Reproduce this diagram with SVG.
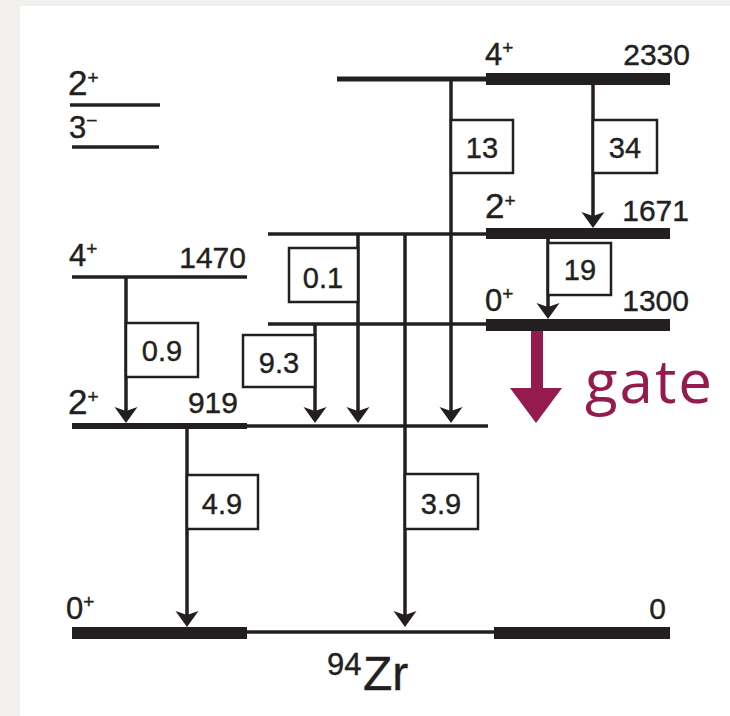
<svg xmlns="http://www.w3.org/2000/svg" width="730" height="716" viewBox="0 0 730 716">
<defs>
<style>
.bg{fill:#f1f0ec}
.panel{fill:#ffffff}
.lvl{stroke:#231f20;stroke-width:3.5;fill:none}
.bar{fill:#231f20}
.tr{stroke:#231f20;stroke-width:3.5;fill:none;marker-end:url(#ah)}
.box{fill:#ffffff;stroke:#231f20;stroke-width:2.5}
.t{font-family:"Liberation Sans",Arial,sans-serif;fill:#231f20;stroke:#231f20;stroke-width:0.4}
.spin{font-size:31px}
.spin2{font-size:35px}
.sup{font-size:19px}
.en{font-size:30px}
.bl{font-size:29px;text-anchor:middle}
.gate{fill:#951a4e}
.gtxt{fill:#951a4e;font-family:"Open Sans","Noto Sans",sans-serif;font-size:60px;letter-spacing:2px}
</style>
<marker id="ah" viewBox="-18 -12 19 24" markerWidth="19" markerHeight="24" refX="-4" refY="0" orient="auto" markerUnits="userSpaceOnUse">
<path d="M0,0 L-16,-11.5 L-12,0 L-16,11.5 Z" fill="#231f20"/>
</marker>
</defs>
<rect class="bg" x="0" y="0" width="730" height="716"/>
<rect class="panel" x="20" y="6" width="710" height="710"/>

<g id="level-2plus-top">
<line class="lvl" x1="70" y1="105" x2="160" y2="105"/>
<text class="t spin2" x="68" y="95">2<tspan class="sup" dy="-11">+</tspan></text>
</g>
<g id="level-3minus">
<line class="lvl" x1="72" y1="147" x2="159" y2="147"/>
<text class="t spin" x="69" y="138">3<tspan class="sup" dy="-11">−</tspan></text>
</g>
<g id="level-1470">
<line class="lvl" x1="72" y1="277" x2="247" y2="277"/>
<text class="t spin" x="69" y="266">4<tspan class="sup" dy="-11">+</tspan></text>
<text class="t en" x="246" y="268" text-anchor="end">1470</text>
</g>
<g id="level-919">
<rect class="bar" x="72" y="423" width="175" height="6"/>
<line class="lvl" x1="246" y1="426" x2="488" y2="426"/>
<text class="t spin2" x="68" y="414">2<tspan class="sup" dy="-11">+</tspan></text>
<text class="t en" x="238" y="413" text-anchor="end">919</text>
</g>
<g id="level-0">
<rect class="bar" x="72" y="627" width="175" height="12"/>
<line class="lvl" x1="246" y1="632" x2="495" y2="632"/>
<rect class="bar" x="494" y="627" width="176" height="12"/>
<text class="t spin" x="66" y="619">0<tspan class="sup" dy="-11">+</tspan></text>
<text class="t en" x="666" y="619" text-anchor="end">0</text>
</g>
<g id="level-2330">
<line class="lvl" x1="337" y1="79" x2="487" y2="79" style="stroke-width:5"/>
<rect class="bar" x="486" y="73" width="184" height="12"/>
<text class="t spin" x="485" y="65">4<tspan class="sup" dy="-11">+</tspan></text>
<text class="t en" x="690" y="65" text-anchor="end">2330</text>
</g>
<g id="level-1671">
<line class="lvl" x1="268" y1="234" x2="487" y2="234"/>
<rect class="bar" x="486" y="228" width="184" height="11"/>
<text class="t spin2" x="485" y="218">2<tspan class="sup" dy="-11">+</tspan></text>
<text class="t en" x="689" y="221" text-anchor="end">1671</text>
</g>
<g id="level-1300">
<line class="lvl" x1="268" y1="324" x2="487" y2="324"/>
<rect class="bar" x="486" y="319" width="184" height="12"/>
<text class="t spin" x="485" y="311">0<tspan class="sup" dy="-11">+</tspan></text>
<text class="t en" x="689" y="311" text-anchor="end">1300</text>
</g>

<g id="connectors">
<line class="tr" x1="451" y1="79" x2="451" y2="419"/>
<line class="tr" x1="593" y1="85" x2="593" y2="224"/>
<line class="tr" x1="548" y1="239" x2="548" y2="315"/>
<line class="tr" x1="358" y1="234" x2="358" y2="419"/>
<line class="tr" x1="405" y1="234" x2="405" y2="623"/>
<line class="tr" x1="315" y1="324" x2="315" y2="419"/>
<line class="tr" x1="126" y1="277" x2="126" y2="419"/>
<line class="tr" x1="187" y1="429" x2="187" y2="623"/>
</g>

<g id="label-13"><rect class="box" x="451" y="120" width="62" height="53"/><text class="t bl" x="482" y="158">13</text></g>
<g id="label-34"><rect class="box" x="593" y="120" width="64" height="53"/><text class="t bl" x="625" y="158">34</text></g>
<g id="label-19"><rect class="box" x="548" y="243" width="63" height="52"/><text class="t bl" x="580" y="280">19</text></g>
<g id="label-0.1"><rect class="box" x="289" y="248" width="69" height="54"/><text class="t bl" x="323" y="288">0.1</text></g>
<g id="label-9.3"><rect class="box" x="243" y="335" width="72" height="52"/><text class="t bl" x="279" y="373">9.3</text></g>
<g id="label-0.9"><rect class="box" x="126" y="323" width="72" height="54"/><text class="t bl" x="162" y="361">0.9</text></g>
<g id="label-4.9"><rect class="box" x="187" y="475" width="71" height="54"/><text class="t bl" x="222" y="514">4.9</text></g>
<g id="label-3.9"><rect class="box" x="405" y="474" width="73" height="55"/><text class="t bl" x="441" y="514">3.9</text></g>

<g id="gate">
<rect class="gate" x="531" y="331" width="12" height="58"/>
<polygon class="gate" points="510,388 562,388 536,423"/>
<text class="gtxt" x="585" y="403">gate</text>
</g>

<g id="title">
<text class="t" x="327" y="675" font-size="31">94</text>
<text class="t" x="363" y="690" font-size="48">Zr</text>
</g>
</svg>
